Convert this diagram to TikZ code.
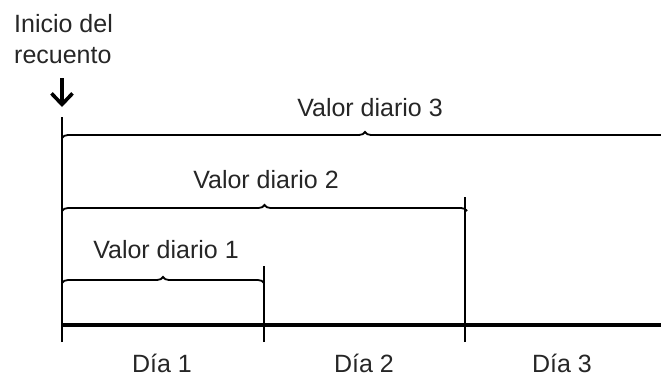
\documentclass[tikz,border=0pt]{standalone}
\usepackage{fontspec}
\setmainfont{Liberation Sans}
\usetikzlibrary{arrows.meta,positioning,decorations.pathreplacing}
\tikzset{
  daylabel/.style={font=\fontsize{25}{30}\selectfont,inner sep=0pt,anchor=base,text=black!85},
  bracelabel/.style={font=\fontsize{25}{30}\selectfont,inner sep=0pt,anchor=base,text=black!85},
  timeline/.style={line width=3.8pt},
  daytick/.style={line width=2.8pt},
  guide/.style={line width=1.4pt},
  spanbrace/.style={decorate,decoration={brace,amplitude=6pt,aspect=0.5},line width=1.8pt},
  startarrow/.style={-{Straight Barb[length=11pt,width=21pt,line width=3.6pt]},line width=3.6pt}
}
\begin{document}
\begin{tikzpicture}[x=1pt,y=-1pt]
  \useasboundingbox (0,0) rectangle (661,376);
  \clip (0,0) rectangle (661,376);
  % day boundaries on the time axis
  \coordinate (d0) at (62,325);
  \coordinate (d1) at (264,325);
  \coordinate (d2) at (465,325);
  \coordinate (dend) at (661,325);
  % start of the count
  \node[font=\fontsize{25}{31}\selectfont,align=left,anchor=base west,inner sep=0pt,text=black!85] (start) at (14,63) {Inicio del\\recuento};
  \coordinate (arrtop) at (62,78);
  \coordinate (arrtip) at (62,107);
  \draw[startarrow] (arrtop) -- (arrtip);
  % guides
  \draw[guide] (62,117) -- (d0);
  \draw[guide] (264,266) -- (d1);
  \draw[guide] (465,197) -- (d2);
  % braces
  \coordinate (b3l) at (62,138);
  \coordinate (b3r) at (668,138);
  \coordinate (b2l) at (62,211);
  \coordinate (b2r) at (467,211);
  \coordinate (b1l) at (62,283);
  \coordinate (b1r) at (264,283);
  \draw[spanbrace] (b3l) -- (b3r);
  \draw[spanbrace] (b2l) -- (b2r);
  \draw[spanbrace] (b1l) -- (b1r);
  \node[bracelabel] (v3) at (370,116) {Valor diario 3};
  \node[bracelabel] (v2) at (266,188) {Valor diario 2};
  \node[bracelabel] (v1) at (166,258) {Valor diario 1};
  % time axis
  \draw[timeline] (d0) -- (dend);
  \foreach \d in {d0,d1,d2}
    \draw[daytick] ([yshift=-17pt]\d) -- ([yshift=20pt]\d);
  \node[daylabel] (day1) at (162,372) {Día 1};
  \node[daylabel] (day2) at (364,372) {Día 2};
  \node[daylabel] (day3) at (562,372) {Día 3};
\end{tikzpicture}
\end{document}
